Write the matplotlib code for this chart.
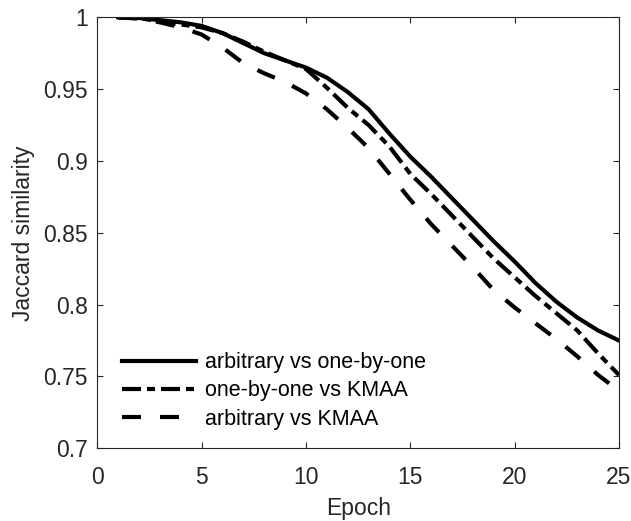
import matplotlib
matplotlib.use("Agg")
import matplotlib.pyplot as plt
from matplotlib.ticker import FormatStrFormatter

epochs = list(range(1, 26))

# arbitrary vs one-by-one
arb_obo = [1.000, 0.9995, 0.998, 0.9965, 0.994, 0.989, 0.982, 0.975, 0.970, 0.965,
           0.958, 0.948, 0.936, 0.919, 0.903, 0.889, 0.874, 0.859, 0.844, 0.830,
           0.815, 0.802, 0.791, 0.782, 0.775]
# one-by-one vs KMAA
obo_kmaa = [1.000, 0.9995, 0.997, 0.995, 0.993, 0.989, 0.983, 0.976, 0.970, 0.964,
            0.951, 0.937, 0.925, 0.910, 0.891, 0.877, 0.862, 0.847, 0.832, 0.819,
            0.806, 0.794, 0.782, 0.766, 0.751]
# arbitrary vs KMAA
arb_kmaa = [1.000, 0.999, 0.9965, 0.993, 0.988, 0.979, 0.968, 0.961, 0.955, 0.947,
            0.936, 0.923, 0.909, 0.891, 0.873, 0.856, 0.841, 0.826, 0.810, 0.798,
            0.787, 0.776, 0.764, 0.751, 0.740]

labels = ['arbitrary vs one-by-one', 'one-by-one vs KMAA', 'arbitrary vs KMAA']

plt.rcParams['font.family'] = ['Liberation Sans', 'DejaVu Sans']
dark = '#262626'

fig = plt.figure(figsize=(6.31, 5.21), dpi=100)
ax = fig.add_axes([97.3 / 631, (521 - 448.3) / 521, 521.7 / 631, 431 / 521])

lw = 3
ax.plot(epochs, arb_obo, color='k', lw=lw, linestyle='-', label=labels[0])
ax.plot(epochs, obo_kmaa, color='k', lw=lw, linestyle=(0, (4.56, 1.44, 1.92, 1.44)), label=labels[1])
ax.plot(epochs, arb_kmaa, color='k', lw=lw, linestyle=(0, (4.56, 4.56)), label=labels[2])

ax.set_xlim(0, 25)
ax.set_ylim(0.7, 1.0)
ax.set_xticks([0, 5, 10, 15, 20, 25])
ax.set_yticks([0.7, 0.75, 0.8, 0.85, 0.9, 0.95, 1.0])
ax.yaxis.set_major_formatter(FormatStrFormatter('%g'))

ax.tick_params(direction='in', length=4.5, width=0.8, colors=dark, labelsize=16.5,
               top=True, right=True, pad=7)
ax.tick_params(axis='x', pad=12.8)
for s in ax.spines.values():
    s.set_color(dark)
    s.set_linewidth(0.8)

ax.set_xlabel('Epoch', fontsize=16.5, color=dark, labelpad=5.5)
ax.set_ylabel('Jaccard similarity', fontsize=16.5, color=dark, labelpad=6)

ax.legend(loc='lower left', bbox_to_anchor=(0.048, 0.043), frameon=False, fontsize=15.5,
          handlelength=3.4, handletextpad=0.45, labelspacing=0.34, borderpad=0,
          borderaxespad=0)

fig.savefig('out.png', dpi=100)
